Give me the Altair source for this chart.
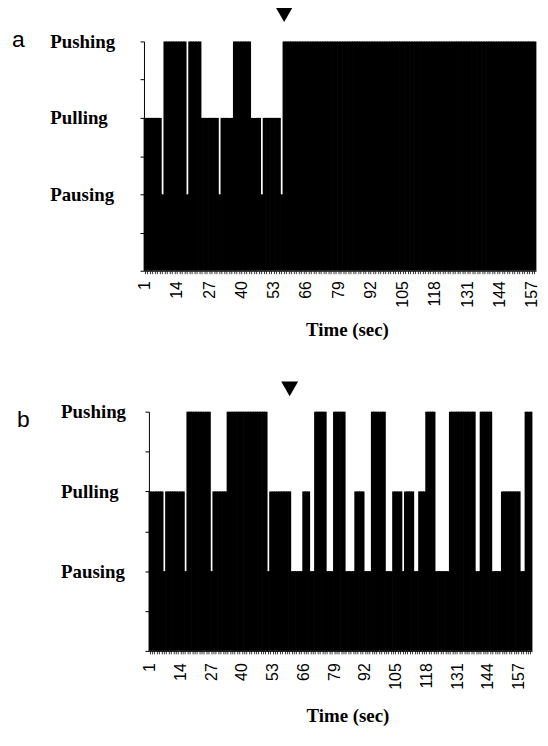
import altair as alt
import numpy as np
import pandas as pd

# 1 = Pausing, 2 = Pulling, 3 = Pushing ; runs of consecutive seconds
# (panel a is cut by the picture's right edge, so only the seconds it shows are kept)
a_states = [2, 1, 3, 1, 3, 2, 1, 2, 3, 2, 1, 2, 1, 3]
a_runs = [7, 1, 9, 1, 5, 7, 1, 5, 7, 4, 1, 7, 1, 102]
b_states = [2, 1, 2, 1, 3, 1, 2, 3, 1, 2, 1, 2, 1, 3, 1, 3, 1, 2, 1, 3, 1, 2, 1, 2, 1, 2,
            3, 1, 3, 1, 3, 1, 2, 1, 3]
b_runs = [6, 1, 8, 1, 10, 1, 6, 17, 1, 9, 5, 3, 2, 5, 3, 5, 4, 4, 3, 6, 3, 4, 1, 4, 2, 3,
          4, 6, 11, 2, 5, 4, 8, 2, 3]
a_arrow = [57]
b_arrow = [60]
y_ticks = [0, 0.5, 1, 1.5, 2, 2.5, 3]

SERIF = "Liberation Serif"
SANS = "Liberation Sans"
SHOWN = "(datum.value - 1) % 13 == 0"


def panel(states, runs, arrow_sec, letter, w, h, shift, letter_x, letter_y, ylab_pad,
          xlab_pad, title_pad, arrow_y):
    vals = np.repeat(states, runs)
    df = pd.DataFrame({"sec": np.arange(1, len(vals) + 1), "level": vals})
    xs = alt.Scale(paddingInner=0, paddingOuter=0, range=[shift, w])
    bars = alt.Chart(df).mark_bar(color="black", width={"band": 1.3}).encode(
        x=alt.X("sec:O", scale=xs, sort="ascending", axis=alt.Axis(
            title="Time (sec)", titleFont=SERIF, titleFontSize=19, titleFontWeight="bold",
            titleColor="black", titlePadding=title_pad, titleX=(w + shift) / 2 + 7,
            labelExpr=SHOWN + " ? datum.label : ''",
            labelFontSize=alt.condition(SHOWN, alt.value(16), alt.value(0)),
            labelAngle=270, labelFont=SANS, labelColor="black",
            labelPadding=xlab_pad, labelOverlap=False, tickSize=3, tickColor="black",
            tickWidth=0.8, domainColor="black", grid=False)),
        y=alt.Y("level:Q", scale=alt.Scale(domain=[0, 3], nice=False, zero=True), axis=alt.Axis(
            title=None, values=y_ticks, offset=-shift,
            labelExpr="datum.value == 1 ? 'Pausing' : datum.value == 2 ? 'Pulling' : datum.value == 3 ? 'Pushing' : ''",
            labelAlign="left", labelBaseline="middle", labelPadding=ylab_pad,
            labelFont=SERIF, labelFontSize=19, labelFontWeight="bold", labelColor="black",
            tickSize=4, tickColor="black", domainColor="black", grid=False)),
    )
    arrow = alt.Chart(pd.DataFrame({"sec": arrow_sec})).mark_point(
        shape="triangle-down", filled=True, color="black", opacity=1, size=290, strokeWidth=0
    ).encode(x=alt.X("sec:O", scale=xs), y=alt.value(arrow_y))
    lab = alt.Chart(pd.DataFrame({"panel": [letter]})).mark_text(
        font=SANS, fontSize=23, align="left", baseline="alphabetic", color="black"
    ).encode(text="panel:N", x=alt.value(letter_x), y=alt.value(letter_y))
    return alt.layer(bars, arrow, lab).properties(width=w, height=h)


pa = panel(a_states, a_runs, a_arrow, "a", 395, 231, 0, -133, 6, 91, 7, 14, -27)
pb = panel(b_states, b_runs, b_arrow, "b", 391, 241, 5, -128, 15, 85, 9, 17, -23)

chart = alt.vconcat(pa, pb, spacing=41).properties(
    padding={"left": 4, "top": -4, "right": 0, "bottom": 0}
).configure_view(stroke=None)

chart.save("out.html", embed_options={"renderer": "svg", "actions": False})
